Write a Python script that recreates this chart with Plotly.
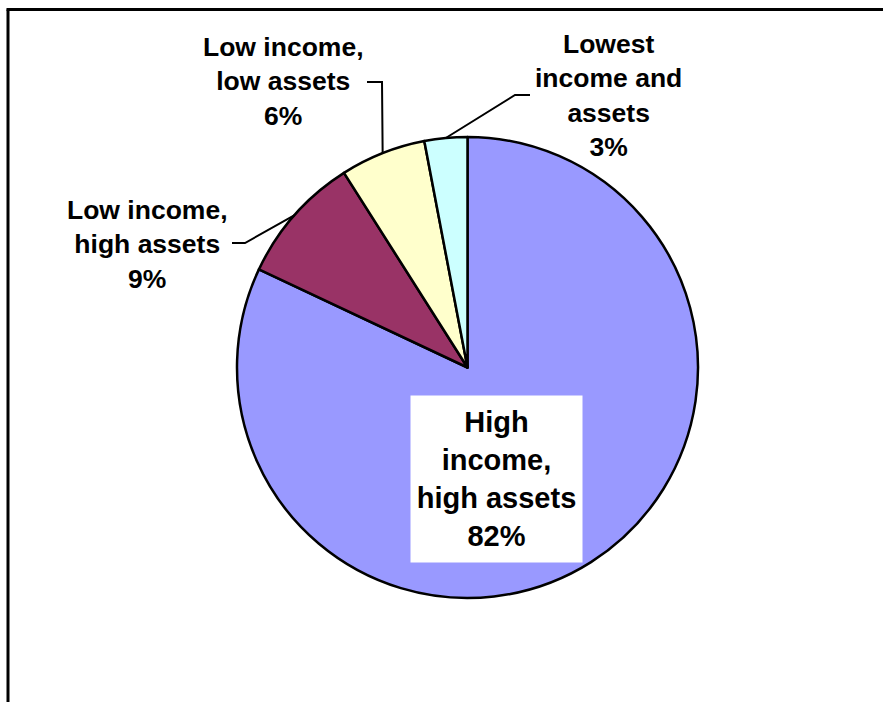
import math
import plotly.graph_objects as go

# ---- data ----
categories = ["High income, high assets", "Low income, high assets",
              "Low income, low assets", "Lowest income and assets"]
label_text = ["High<br>income,<br>high assets", "Low income,<br>high assets",
              "Low income,<br>low assets", "Lowest<br>income and<br>assets"]
values = [82, 9, 6, 3]
colors = ["#9999FF", "#993366", "#FFFFCC", "#CCFFFF"]

W, H = 883, 702
CX, CY, R = 467.5, 367.5, 230.5

def px(x):
    return x / W

def py(y):
    return 1 - y / H

fig = go.Figure(go.Pie(
    labels=categories, values=values, sort=False, direction="clockwise",
    rotation=0, marker=dict(colors=colors, line=dict(color="black", width=2.5)),
    textinfo="none", hoverinfo="label+percent", showlegend=False,
    domain=dict(x=[px(CX - R), px(CX + R)], y=[py(CY + R), py(CY - R)]),
))

# slice mid-angle edge points (computed from data)
total = sum(values)
cum = 0
edge = []
for v in values:
    mid = (cum + v / 2) / total * 2 * math.pi
    edge.append((CX + R * math.sin(mid), CY - R * math.cos(mid)))
    cum += v

shapes = []
# frame (left and top)
shapes.append(dict(type="line", xref="paper", yref="paper", x0=px(8), y0=py(9.5), x1=px(8), y1=0,
                   line=dict(color="black", width=3)))
shapes.append(dict(type="line", xref="paper", yref="paper", x0=px(6.5), y0=py(9.5), x1=1, y1=py(9.5),
                   line=dict(color="black", width=3)))

# leader lines: (elbow, end) for slices 1..3
leaders = {1: [(245, 243), (232, 243)], 2: [(382, 82), (367, 82)], 3: [(515, 95), (530, 95)]}
for i, pts in leaders.items():
    path_pts = [edge[i]] + pts
    d = "M " + " L ".join(f"{px(x)},{py(y)}" for x, y in path_pts)
    shapes.append(dict(type="path", xref="paper", yref="paper", path=d,
                       line=dict(color="black", width=2)))

font_out = dict(family="Liberation Sans, Arial, sans-serif", size=26.5, color="black")
font_in = dict(family="Liberation Sans, Arial, sans-serif", size=29, color="black")

pos = {1: (147, 244), 2: (283, 81), 3: (608, 96)}
annotations = []
for i, (x, y) in pos.items():
    annotations.append(dict(xref="paper", yref="paper", x=px(x), y=py(y), xanchor="center",
                            yanchor="middle", showarrow=False, align="center",
                            text=f"<b>{label_text[i]}<br>{values[i]}%</b>", font=font_out))
annotations.append(dict(xref="paper", yref="paper", x=px(496.5), y=py(479), xanchor="center",
                        yanchor="middle", showarrow=False, align="center", width=171, height=166,
                        bgcolor="white", borderpad=0,
                        text=f"<b>{label_text[0]}<br>{values[0]}%</b>", font=font_in))

fig.update_layout(width=W, height=H, margin=dict(l=0, r=0, t=0, b=0),
                  paper_bgcolor="white", plot_bgcolor="white",
                  shapes=shapes, annotations=annotations)
fig.write_html("out.html")
